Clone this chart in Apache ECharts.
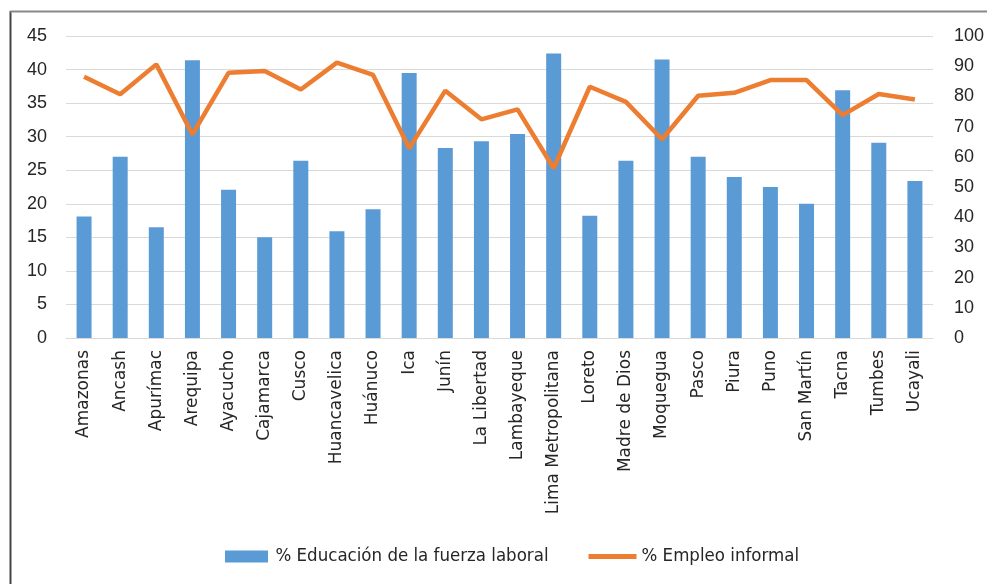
<!DOCTYPE html>
<html>
<head>
<meta charset="utf-8">
<script src="https://cdn.jsdelivr.net/npm/echarts@6/dist/echarts.min.js"></script>
<style>
  html, body { margin: 0; padding: 0; background: #fff; }
  #chart { width: 987px; height: 584px; }
</style>
</head>
<body>
<div id="chart"></div>
<script>
// regiones
const regiones = [
  'Amazonas', 'Ancash', 'Apurímac', 'Arequipa', 'Ayacucho', 'Cajamarca',
  'Cusco', 'Huancavelica', 'Huánuco', 'Ica', 'Junín', 'La Libertad',
  'Lambayeque', 'Lima Metropolitana', 'Loreto', 'Madre de Dios', 'Moquegua',
  'Pasco', 'Piura', 'Puno', 'San Martín', 'Tacna', 'Tumbes', 'Ucayali'
];
// % Educación de la fuerza laboral (eje izquierdo)
const educacion = [
  18.1, 27.0, 16.5, 41.4, 22.1, 15.0, 26.4, 15.9, 19.2, 39.5, 28.3, 29.3,
  30.4, 42.4, 18.2, 26.4, 41.5, 27.0, 24.0, 22.5, 20.0, 36.9, 29.1, 23.4
];
// % Empleo informal (eje derecho)
const informal = [
  86.5, 80.7, 90.6, 67.4, 87.8, 88.4, 82.3, 91.2, 87.1, 62.8, 81.9, 72.4,
  75.7, 56.2, 83.2, 78.2, 65.8, 80.2, 81.2, 85.4, 85.4, 73.8, 80.8, 79.0
];

const numFont = 'Liberation Sans, sans-serif';
const catFont = 'DejaVu Sans, sans-serif';
const legFont = '"DejaVu Sans Condensed", "Liberation Sans", sans-serif';
const txt = '#262626';

const chart = echarts.init(document.getElementById('chart'));
chart.setOption({
  animation: false,
  backgroundColor: '#fff',
  graphic: [
    { type: 'line', shape: { x1: 10.5, y1: 11, x2: 10.5, y2: 584 }, style: { stroke: '#444', lineWidth: 2 } },
    { type: 'line', shape: { x1: 10, y1: 11.5, x2: 987, y2: 11.5 }, style: { stroke: '#888', lineWidth: 2 } }
  ],
  grid: { left: 66, right: 54, top: 36, bottom: 246 },
  legend: {
    bottom: 13,
    left: 220,
    itemGap: 40,
    itemWidth: 48,
    itemHeight: 12,
    textStyle: { color: txt, fontSize: 18.5, fontFamily: legFont },
    data: [
      { name: '% Educación de la fuerza laboral', icon: 'path://M0,0 L43,0 L43,12 L0,12 Z' },
      { name: '% Empleo informal', icon: 'path://M0,0 L48,0 L48,5 L0,5 Z' }
    ]
  },
  xAxis: {
    type: 'category',
    data: regiones,
    axisLine: { lineStyle: { color: '#d9d9d9' } },
    axisTick: { show: false },
    axisLabel: { rotate: 90, interval: 0, color: txt, fontSize: 17, fontFamily: catFont, margin: 12 }
  },
  yAxis: [
    {
      type: 'value', min: 0, max: 45, interval: 5,
      axisLine: { show: false }, axisTick: { show: false },
      axisLabel: { color: txt, fontSize: 18, fontFamily: numFont, margin: 19 },
      splitLine: { lineStyle: { color: '#d9d9d9' } }
    },
    {
      type: 'value', min: 0, max: 100, interval: 10,
      axisLine: { show: false }, axisTick: { show: false },
      axisLabel: { color: txt, fontSize: 18, fontFamily: numFont, margin: 21, align: 'left' },
      splitLine: { show: false }
    }
  ],
  series: [
    {
      name: '% Educación de la fuerza laboral',
      type: 'bar',
      data: educacion,
      barWidth: 15,
      itemStyle: { color: '#5B9BD5' }
    },
    {
      name: '% Empleo informal',
      type: 'line',
      yAxisIndex: 1,
      data: informal,
      symbol: 'none',
      lineStyle: { color: '#ED7D31', width: 4.5 },
      itemStyle: { color: '#ED7D31' }
    }
  ]
});
</script>
</body>
</html>
